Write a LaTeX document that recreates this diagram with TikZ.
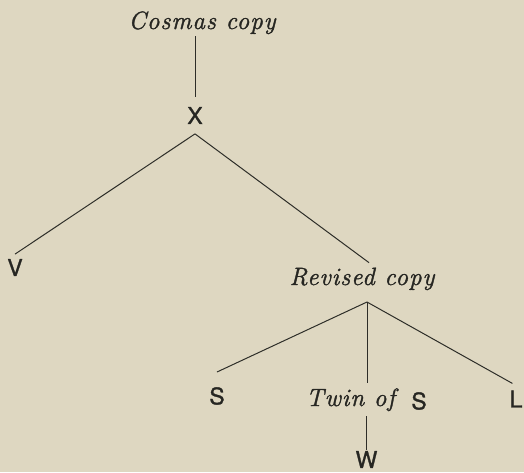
\documentclass[tikz,border=0pt]{standalone}
\usepackage{fontspec}
\setmainfont{Latin Modern Roman}
\newfontfamily\grotesk[FakeBold=1.2]{TeX Gyre Heros}
\definecolor{paper}{RGB}{222,215,193}
\definecolor{ink}{RGB}{38,38,34}
\definecolor{rule}{RGB}{45,45,40}
\newcommand{\itcopy}{\fontsize{25}{28}\selectfont\itshape\addfontfeatures{LetterSpace=4,FakeBold=1.5}}
\newcommand{\lettr}{\fontsize{23}{26}\selectfont\grotesk}
\tikzset{
  ital/.style={font=\itcopy, text=ink, inner sep=0pt},
  letter/.style={font=\lettr, text=ink, inner sep=0pt},
  link/.style={draw=rule, line width=1pt}
}
\begin{document}
\begin{tikzpicture}[x=1pt, y=-1pt]
  % page
  \fill[paper] (0,0) rectangle (524,472);
  \useasboundingbox (0,0) rectangle (524,472);

  % labels
  \node[ital, anchor=base, outer sep=2pt] (cosmas) at (202,29) {Cosmas copy};
  \node[letter, outer sep=10pt] (X) at (195,115.5) {X};
  \node[letter, outer sep=5pt] (V) at (15,267.5) {V};
  \node[ital, anchor=base, outer sep=5pt] (revised) at (362,285) {Revised copy};
  \node[letter] (S1) at (217,396) {S};
  \node[ital, anchor=base, outer sep=5pt] (twin) at (350.5,406) {Twin of};
  \node[letter] (S2) at (419,401) {S};
  \node[letter] (L) at (516,399) {L};
  \node[letter, outer sep=1pt] (W) at (366.5,459.5) {W};

  % branching point below the revised copy
  \coordinate (fork) at (367,302);

  % stemma lines
  \draw[link] (X.north |- cosmas.south) -- (X.north);
  \draw[link] (X.south) -- (V.north);
  \draw[link] (X.south) -- ([xshift=7pt]revised.north);
  \draw[link] (fork) -- ([yshift=15pt]S1.north);
  \draw[link] (fork) -- (fork |- twin.north);
  \draw[link] (fork) -- ([xshift=3pt,yshift=7pt]L.north west);
  \draw[link] (W.north |- twin.south) -- (W.north);
\end{tikzpicture}
\end{document}
